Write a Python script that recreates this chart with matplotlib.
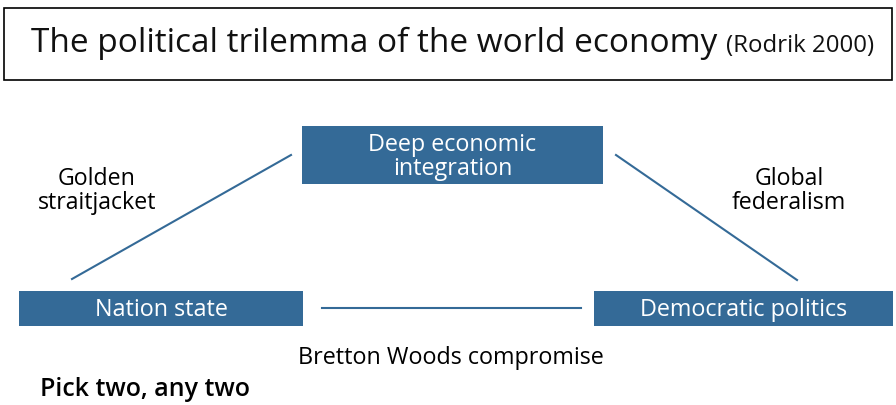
import matplotlib
matplotlib.use("Agg")
import matplotlib.pyplot as plt
from matplotlib.patches import Rectangle

plt.rcParams['font.family'] = ['Open Sans', 'DejaVu Sans']

title = "The political trilemma of the world economy"
source = "(Rodrik 2000)"
corners = ["Deep economic\nintegration", "Nation state", "Democratic politics"]
edges = ["Golden\nstraitjacket", "Global\nfederalism", "Bretton Woods compromise"]
footer = "Pick two, any two"

blue = "#346a97"

fig = plt.figure(figsize=(8.96, 4.05), dpi=100)
ax = fig.add_axes([0, 0, 1, 1])
ax.set_xlim(0, 896)
ax.set_ylim(405, 0)
ax.axis("off")

# title box
ax.add_patch(Rectangle((4, 8), 888, 72, fill=False, ec="black", lw=1.2))
ax.text(31, 43, title, fontsize=24, va="center", ha="left", color="#111111")
ax.text(726, 46, source, fontsize=17.3, va="center", ha="left", color="#111111")

# the three corner boxes
boxes = [(302, 126, 301, 58), (19, 291, 284, 35), (594, 291, 299, 35)]
for (x, y, w, h), lab in zip(boxes, corners):
    ax.add_patch(Rectangle((x, y), w, h, color=blue, lw=0))
    ax.text(x + w / 2, y + h / 2 + 2, lab, color="white", fontsize=16.8,
            ha="center", va="center", linespacing=1.0)

# connecting lines
ax.plot([72, 291], [279, 155], color=blue, lw=1.5)
ax.plot([616, 797], [155, 280], color=blue, lw=1.5)
ax.plot([322, 581], [308, 308], color=blue, lw=1.5)

ax.text(97, 191, edges[0], fontsize=16.7, ha="center", va="center", linespacing=1.0)
ax.text(789, 191, edges[1], fontsize=16.7, ha="center", va="center", linespacing=1.0)
ax.text(451, 358, edges[2], fontsize=16.8, ha="center", va="center")
ax.text(40, 390, footer, fontsize=18, ha="left", va="center", weight="semibold")

fig.savefig("out.png", dpi=100)
